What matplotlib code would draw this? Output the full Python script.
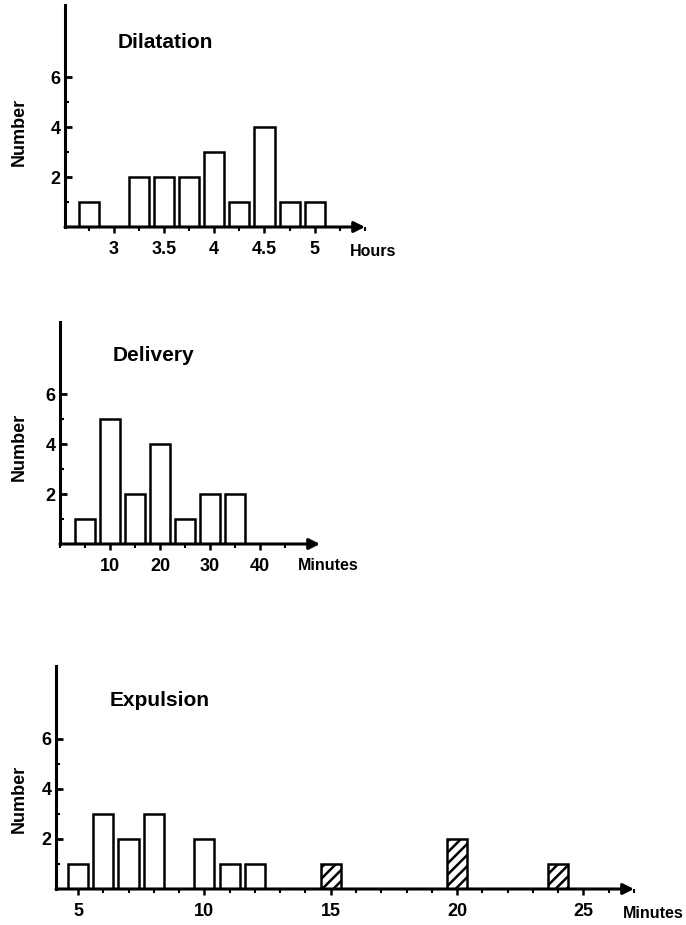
import matplotlib
matplotlib.use("Agg")
import matplotlib.pyplot as plt
from matplotlib.ticker import MultipleLocator, FixedLocator

plt.rcParams['font.family'] = ['Liberation Sans', 'DejaVu Sans']
plt.rcParams['font.weight'] = 'bold'
plt.rcParams['hatch.linewidth'] = 1.8

# ---- data ----
dil_hours = [2.75, 3.25, 3.5, 3.75, 4.0, 4.25, 4.5, 4.75, 5.0]
dil_counts = [1, 2, 2, 2, 3, 1, 4, 1, 1]
dil_ticks = [3, 3.5, 4, 4.5, 5]
dil_ticklabels = ["3", "3.5", "4", "4.5", "5"]

del_minutes = [5, 10, 15, 20, 25, 30, 35]
del_counts = [1, 5, 2, 4, 1, 2, 2]
del_ticks = [10, 20, 30, 40]
del_ticklabels = ["10", "20", "30", "40"]

exp_minutes = [5, 6, 7, 8, 10, 11, 12]
exp_counts = [1, 3, 2, 3, 2, 1, 1]
exp_hatched_minutes = [15, 20, 24]
exp_hatched_counts = [1, 2, 1]
exp_ticks = [5, 10, 15, 20, 25]
exp_ticklabels = ["5", "10", "15", "20", "25"]

y_ticks = [2, 4, 6]
y_ticklabels = ["2", "4", "6"]

W, H = 686, 925
fig = plt.figure(figsize=(W / 100, H / 100), dpi=100)


def add_ax(x0, x1, ybase, ytop):
    return fig.add_axes([x0 / W, 1 - ybase / H, (x1 - x0) / W, (ybase - ytop) / H])


def ftext(x, y, s, **kw):
    fig.text(x / W, 1 - y / H, s, **kw)


def style(ax, xmin, xmax, ticks, labels, minor_step):
    ax.set_xlim(xmin, xmax)
    ax.set_ylim(0, 8.9)
    for s in ['top', 'right', 'bottom']:
        ax.spines[s].set_visible(False)
    ax.spines['left'].set_linewidth(2.2)
    ax.annotate('', xy=(xmax, 0), xytext=(xmin, 0), xycoords='data',
                arrowprops=dict(arrowstyle='-|>', lw=2.2, color='black',
                                mutation_scale=16, shrinkA=0, shrinkB=0),
                annotation_clip=False)
    ax.set_xticks(ticks)
    ax.set_xticklabels(labels, fontsize=13, fontweight='bold')
    ax.xaxis.set_minor_locator(MultipleLocator(minor_step))
    ax.tick_params(axis='x', which='major', direction='out', length=4, width=1.8, pad=6)
    ax.tick_params(axis='x', which='minor', direction='out', length=3, width=1.5)
    ax.set_yticks(y_ticks)
    ax.set_yticklabels(y_ticklabels, fontsize=13, fontweight='bold')
    ax.yaxis.set_minor_locator(FixedLocator([1, 3, 5]))
    ax.tick_params(axis='y', which='major', direction='in', length=5, width=2, pad=3)
    ax.tick_params(axis='y', which='minor', direction='in', length=3, width=1.5)
    ax.set_facecolor('none')


# Panel 1: Dilatation
ax1 = add_ax(65, 365, 227, 5)
ax1.bar(dil_hours, dil_counts, width=0.2, facecolor='white', edgecolor='black', linewidth=1.8, zorder=3)
style(ax1, 2.515, 5.5, dil_ticks, dil_ticklabels, 0.25)

# Panel 2: Delivery
ax2 = add_ax(60, 320, 544, 322)
ax2.bar(del_minutes, del_counts, width=3.9, facecolor='white', edgecolor='black', linewidth=1.8, zorder=3)
style(ax2, 0, 52, del_ticks, del_ticklabels, 5)

# Panel 3: Expulsion
ax3 = add_ax(56, 634, 889, 666)
ax3.bar(exp_minutes, exp_counts, width=0.8, facecolor='white', edgecolor='black', linewidth=1.8, zorder=3)
ax3.bar(exp_hatched_minutes, exp_hatched_counts, width=0.8, facecolor='white', edgecolor='black',
        linewidth=1.8, hatch='///', zorder=3)
style(ax3, 4.13, 27.0, exp_ticks, exp_ticklabels, 1)

ftext(350, 251, "Hours", fontsize=11.5, fontweight='bold', ha='left', va='center')
ftext(298, 566, "Minutes", fontsize=11.5, fontweight='bold', ha='left', va='center')
ftext(623, 914, "Minutes", fontsize=11.5, fontweight='bold', ha='left', va='center')

ftext(118, 43, "Dilatation", fontsize=15, fontweight='bold', ha='left', va='center')
ftext(113, 355, "Delivery", fontsize=15, fontweight='bold', ha='left', va='center')
ftext(110, 700, "Expulsion", fontsize=15, fontweight='bold', ha='left', va='center')

for yc in (132, 447, 799):
    ftext(19, yc, "Number", fontsize=13, fontweight='bold', rotation=90, ha='center', va='center')

fig.savefig("out.png", dpi=100, facecolor='white')
